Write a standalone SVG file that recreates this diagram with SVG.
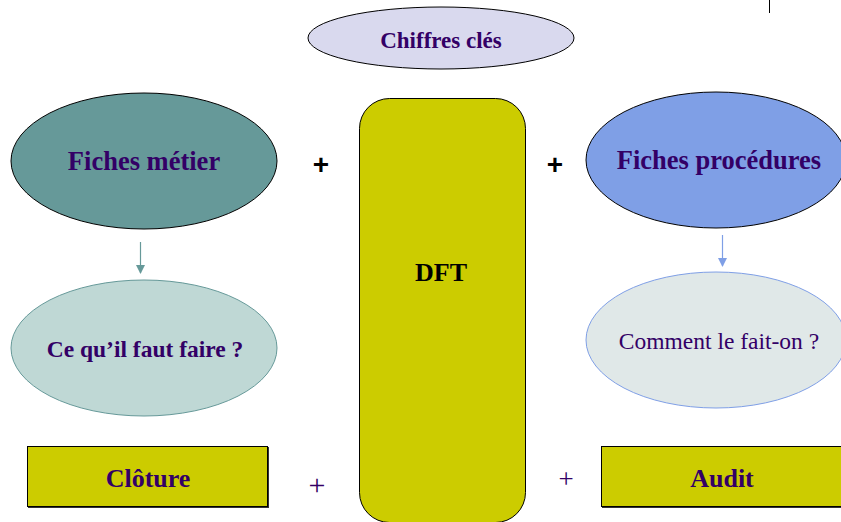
<svg xmlns="http://www.w3.org/2000/svg" width="841" height="522" viewBox="0 0 841 522">
  <style>
    .t { font-family: "Liberation Serif", "Times New Roman", serif; fill: #330066; text-anchor: middle; }
    .b { font-weight: bold; }
    .plusB { font-family: "Liberation Sans", Arial, sans-serif; font-weight: bold; font-size: 28px; fill: #000; text-anchor: middle; }
    .plusS { font-family: "Liberation Serif", "Times New Roman", serif; fill: #330066; text-anchor: middle; }
    .shape { stroke: #000; stroke-width: 1; }
    .olive { fill: #CCCC00; }
  </style>
  <defs>
    <marker id="arrTeal" markerWidth="9" markerHeight="9" refX="8" refY="4.5" orient="auto" markerUnits="userSpaceOnUse" viewBox="0 0 9 9">
      <path d="M0,0 L9,4.5 L0,9 Z" fill="#669999"/>
    </marker>
    <marker id="arrBlue" markerWidth="9" markerHeight="9" refX="8" refY="4.5" orient="auto" markerUnits="userSpaceOnUse" viewBox="0 0 9 9">
      <path d="M0,0 L9,4.5 L0,9 Z" fill="#7F9FE6"/>
    </marker>
  </defs>
  <rect width="841" height="522" fill="#fff"/>
  <line x1="769.5" y1="0" x2="769.5" y2="13" stroke="#000" stroke-width="1"/>

  <g id="chiffres">
    <ellipse cx="441" cy="38" rx="133" ry="31" fill="#D9D9EE" class="shape"/>
    <text x="441" y="48" class="t b" font-size="23">Chiffres clés</text>
  </g>

  <g id="fiches-metier">
    <ellipse cx="144" cy="161" rx="133" ry="68" fill="#669999" class="shape"/>
    <text x="144" y="170" class="t b" font-size="26.5">Fiches métier</text>
  </g>

  <g id="dft">
    <rect x="359.5" y="98.5" width="166" height="424" rx="30" ry="30" class="olive shape"/>
    <text x="441" y="281" font-family="Liberation Serif, Times New Roman, serif" font-weight="bold" font-size="26" fill="#000" text-anchor="middle">DFT</text>
  </g>

  <g id="fiches-procedures">
    <ellipse cx="716" cy="160" rx="130" ry="68" fill="#7F9FE6" class="shape"/>
    <text x="719" y="169" class="t b" font-size="26.5">Fiches procédures</text>
  </g>

  <g id="ce-qu-il-faut-faire">
    <ellipse cx="144" cy="348" rx="133" ry="68" fill="#BFD8D5" stroke="#669999" stroke-width="1"/>
    <text x="145" y="357" class="t b" font-size="23.5">Ce qu’il faut faire ?</text>
  </g>

  <g id="comment-le-fait-on">
    <ellipse cx="716" cy="340" rx="130" ry="68" fill="#E0E8E8" stroke="#7F9FE6" stroke-width="1"/>
    <text x="719" y="349" class="t" font-size="23.5">Comment le fait-on ?</text>
  </g>

  <g id="cloture">
    <rect x="28" y="447" width="241" height="61" fill="#333"/>
    <rect x="27.5" y="446.5" width="240" height="60" class="olive shape"/>
    <text x="148" y="487" class="t b" font-size="26">Clôture</text>
  </g>

  <g id="audit">
    <rect x="602" y="447" width="241" height="61" fill="#333"/>
    <rect x="601.5" y="446.5" width="242" height="60" class="olive shape"/>
    <text x="722" y="487" class="t b" font-size="26">Audit</text>
  </g>

  <g id="connectors">
    <line x1="140.5" y1="242" x2="140.5" y2="273" stroke="#669999" stroke-width="1.2" marker-end="url(#arrTeal)"/>
    <line x1="722.5" y1="235" x2="722.5" y2="266" stroke="#7F9FE6" stroke-width="1.2" marker-end="url(#arrBlue)"/>
  </g>

  <g id="plus-signs">
    <text x="321" y="174" class="plusB">+</text>
    <text x="555" y="174" class="plusB">+</text>
    <text x="317" y="495" class="plusS" font-size="30">+</text>
    <text x="566" y="488" class="plusS" font-size="27">+</text>
  </g>
</svg>
